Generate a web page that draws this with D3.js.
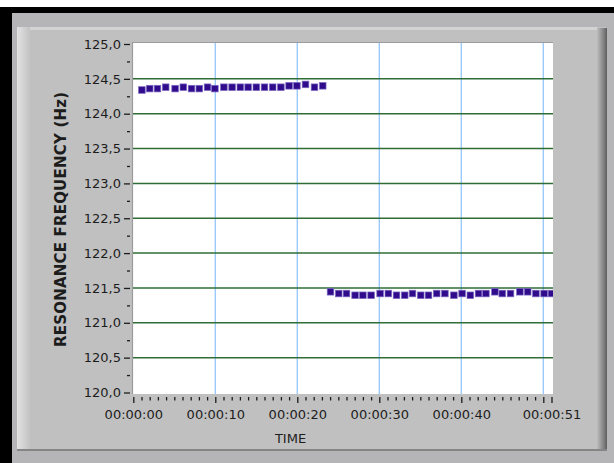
<!DOCTYPE html>
<html>
<head>
<meta charset="utf-8">
<script src="https://cdn.jsdelivr.net/npm/d3@7"></script>
<style>
  html, body { margin: 0; padding: 0; background: #ffffff; }
  svg { display: block; }
  text { font-family: "DejaVu Sans", Verdana, sans-serif; fill: #1c1c1c; }
</style>
</head>
<body>
<svg id="chart" width="614" height="463"></svg>
<script>
// Elapsed time of each sample (seconds) and measured resonance frequency (Hz)
const seconds = [
  1.05, 2.0, 2.95, 3.95, 5.1, 6.1, 7.1, 8.05, 9.05, 9.95, 11.05, 12.05,
  13.05, 14.0, 15.0, 16.0, 17.0, 18.0, 19.0, 19.95, 21.0, 22.1, 23.1,
  24.05, 25.05, 26.0, 27.05, 28.0, 29.0, 30.1, 31.1, 32.1, 33.1, 34.05,
  35.05, 36.0, 37.0, 38.0, 39.1, 40.1, 41.1, 42.1, 43.0, 44.1, 45.0,
  46.0, 47.15, 48.1, 49.1, 50.1, 51.0
];
const frequency = [
  124.34, 124.36, 124.36, 124.38, 124.36, 124.38, 124.36, 124.36, 124.38, 124.36, 124.38, 124.38,
  124.38, 124.38, 124.38, 124.38, 124.38, 124.38, 124.40, 124.40, 124.42, 124.38, 124.40,
  121.445, 121.42, 121.42, 121.395, 121.395, 121.395, 121.42, 121.42, 121.395, 121.395, 121.42,
  121.395, 121.395, 121.42, 121.42, 121.395, 121.42, 121.395, 121.42, 121.42, 121.445, 121.42,
  121.42, 121.445, 121.445, 121.42, 121.42, 121.42
];

// Axis ticks
const yMajorTicks = [120, 120.5, 121, 121.5, 122, 122.5, 123, 123.5, 124, 124.5, 125];
const yMinorTicks = [120.25, 120.75, 121.25, 121.75, 122.25, 122.75, 123.25, 123.75, 124.25, 124.75];
const yGridTicks = [120.5, 121, 121.5, 122, 122.5, 123, 123.5, 124, 124.5];
const xMajorTicks = [0, 10, 20, 30, 40, 50, 51];
const xLabelTicks = [0, 10, 20, 30, 40, 51];
const xTickLabels = ["00:00:00", "00:00:10", "00:00:20", "00:00:30", "00:00:40", "00:00:51"];
const xGridTicks = [10, 20, 30, 40, 50];
const xMinorTicks = d3.range(0, 52, 1).filter(d => d % 10 !== 0 && d !== 51);

const svg = d3.select("#chart");
const defs = svg.append("defs");

// ---- LabVIEW-style frame ----
const lg = defs.append("linearGradient").attr("id", "leftHi").attr("x1", 0).attr("x2", 1);
lg.append("stop").attr("offset", 0).attr("stop-color", "#e2e2e2");
lg.append("stop").attr("offset", 1).attr("stop-color", "#c2c2c2");
const rg = defs.append("linearGradient").attr("id", "rightSh").attr("x1", 0).attr("x2", 1);
rg.append("stop").attr("offset", 0).attr("stop-color", "#bdbdbd");
rg.append("stop").attr("offset", 0.75).attr("stop-color", "#7a7a7a");
rg.append("stop").attr("offset", 1).attr("stop-color", "#5c5c5c");

svg.append("rect").attr("x", 0).attr("y", 7).attr("width", 614).attr("height", 456).attr("fill", "#000");
svg.append("rect").attr("x", 12).attr("y", 13).attr("width", 602).attr("height", 450).attr("fill", "#b5b4b7");
svg.append("rect").attr("x", 17).attr("y", 27).attr("width", 590).attr("height", 424).attr("fill", "#c0c0c0");
svg.append("rect").attr("x", 17).attr("y", 27).attr("width", 580).attr("height", 3).attr("fill", "#d3d3d3");
svg.append("rect").attr("x", 17).attr("y", 27).attr("width", 13).attr("height", 424).attr("fill", "url(#leftHi)");
svg.append("rect").attr("x", 597).attr("y", 28).attr("width", 10).attr("height", 423).attr("fill", "url(#rightSh)");
svg.append("rect").attr("x", 17).attr("y", 449).attr("width", 590).attr("height", 2).attr("fill", "#858585");

// ---- plot area ----
const plot = { left: 132, top: 42, right: 553, bottom: 394 };
const x = d3.scaleLinear().domain([0, 51]).range([133.3, 551.5]);
const y = d3.scaleLinear().domain([120, 125]).range([392.5, 44]);

svg.append("rect")
  .attr("x", plot.left).attr("y", plot.top)
  .attr("width", plot.right - plot.left).attr("height", plot.bottom - plot.top)
  .attr("fill", "#ffffff");
svg.append("path")
  .attr("d", `M${plot.left + 0.5},${plot.bottom}V${plot.top + 0.5}H${plot.right}`)
  .attr("fill", "none").attr("stroke", "#9c9c9c").attr("stroke-width", 1.2);

defs.append("clipPath").attr("id", "plotClip")
  .append("rect")
  .attr("x", plot.left + 1).attr("y", plot.top + 1)
  .attr("width", plot.right - plot.left - 1).attr("height", plot.bottom - plot.top - 1);

const inner = svg.append("g").attr("clip-path", "url(#plotClip)");

// vertical grid (time)
inner.selectAll("line.vgrid").data(xGridTicks).join("line")
  .attr("class", "vgrid")
  .attr("x1", d => x(d)).attr("x2", d => x(d))
  .attr("y1", plot.top).attr("y2", plot.bottom)
  .attr("stroke", "#9ccafb").attr("stroke-width", 1.4);

// horizontal grid (frequency)
inner.selectAll("line.hgrid").data(yGridTicks).join("line")
  .attr("class", "hgrid")
  .attr("x1", plot.left).attr("x2", plot.right)
  .attr("y1", d => y(d)).attr("y2", d => y(d))
  .attr("stroke", "#2f6c36").attr("stroke-width", 1.5);

// sample markers
const pts = seconds.map((s, i) => ({ s, f: frequency[i] }));
const sz = 6.6;
inner.selectAll("rect.pt").data(pts).join("rect")
  .attr("class", "pt")
  .attr("x", d => x(d.s) - sz / 2).attr("y", d => y(d.f) - sz / 2)
  .attr("width", sz).attr("height", sz)
  .attr("fill", "#300c8c")
  .attr("stroke", "#7d69c4").attr("stroke-width", 0.7);

// ---- Y axis ----
const yFmt = d => d3.format(".1f")(d).replace(".", ",");
const yAxis = svg.append("g").attr("transform", "translate(130,0)")
  .call(d3.axisLeft(y).tickValues(yMajorTicks).tickSize(6).tickPadding(3).tickFormat(yFmt));
const yMinor = svg.append("g").attr("transform", "translate(130,0)")
  .call(d3.axisLeft(y).tickValues(yMinorTicks).tickSize(3).tickFormat(""));

// ---- X axis ----
const xAxis = svg.append("g").attr("transform", "translate(0,397)")
  .call(d3.axisBottom(x).tickValues(xMajorTicks).tickSize(6).tickPadding(7)
    .tickFormat(d => { const i = xLabelTicks.indexOf(d); return i >= 0 ? xTickLabels[i] : ""; }));
const xMinor = svg.append("g").attr("transform", "translate(0,397)")
  .call(d3.axisBottom(x).tickValues(xMinorTicks).tickSize(3.5).tickFormat(""));

[yAxis, yMinor, xAxis, xMinor].forEach(g => {
  g.select(".domain").remove();
  g.selectAll(".tick line").attr("stroke", "#1c1c1c").attr("stroke-width", 1.3);
  g.selectAll(".tick text").attr("font-family", "DejaVu Sans, sans-serif")
    .attr("font-size", 13).attr("fill", "#1c1c1c");
});

// ---- axis titles ----
svg.append("text")
  .attr("x", 290.5).attr("y", 443)
  .attr("text-anchor", "middle")
  .attr("font-size", 13)
  .text("TIME");

svg.append("text")
  .attr("transform", "translate(66,219.5) rotate(-90)")
  .attr("text-anchor", "middle")
  .attr("font-size", 15)
  .attr("font-weight", "bold")
  .attr("textLength", 255)
  .attr("lengthAdjust", "spacing")
  .text("RESONANCE FREQUENCY (Hz)");
</script>
</body>
</html>
